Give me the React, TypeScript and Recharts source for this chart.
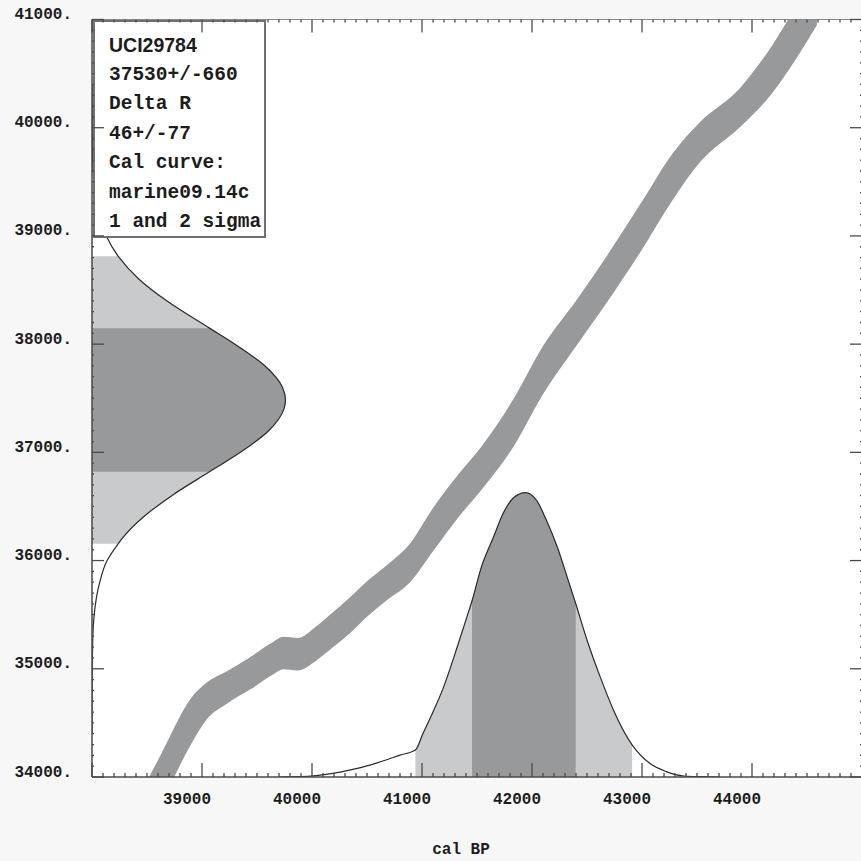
import { ComposedChart, Area, Line, XAxis, YAxis, CartesianGrid } from 'recharts'

// calibration curve (marine09), cal BP -> 14C age and 1 sigma
const CURVE_CAL = [38440, 38640, 38710, 38890, 39040, 39230, 39440, 39650, 39740, 39870, 40040, 40190, 40350, 40500, 40680, 40900, 41100, 41320, 41530, 41830, 42100, 42410, 42680, 42980, 43280, 43530, 43890, 44140, 44440, 44590]
const CURVE_C14 = [33620, 34000, 34150, 34500, 34700, 34830, 34960, 35100, 35145, 35135, 35235, 35360, 35500, 35645, 35795, 35990, 36285, 36585, 36840, 37270, 37760, 38205, 38600, 39065, 39550, 39870, 40185, 40480, 40945, 41200]
const CURVE_SIG = [235, 235, 230, 215, 170, 150, 150, 150, 150, 150, 158, 162, 166, 165, 162, 180, 200, 198, 200, 220, 222, 210, 215, 222, 215, 185, 180, 215, 245, 250]

// calibrated probability (relative)
const PDF_CAL = [39700, 39890, 40040, 40190, 40350, 40500, 40650, 40800, 40940, 41010, 41100, 41190, 41320, 41410, 41455, 41540, 41650, 41740, 41830, 41940, 42040, 42130, 42230, 42320, 42397, 42500, 42620, 42740, 42910, 43070, 43220, 43380, 43530, 43710]
const PDF_P = [0, 0.001, 0.005, 0.013, 0.025, 0.039, 0.057, 0.077, 0.095, 0.154, 0.229, 0.31, 0.457, 0.565, 0.62, 0.739, 0.844, 0.929, 0.981, 1.0, 0.974, 0.904, 0.809, 0.703, 0.61, 0.482, 0.352, 0.236, 0.113, 0.048, 0.019, 0.0035, 0.001, 0]
const PDF_2S = [40940, 42910]
const PDF_1S = [41455, 42397]

// 14C age distribution (relative)
const AGE = [34400, 34800, 35000, 35200, 35400, 35600, 35800, 36000, 36155, 36200, 36400, 36600, 36820, 37000, 37200, 37400, 37484, 37600, 37800, 38000, 38148, 38400, 38600, 38813, 39000, 39200, 39400, 39600, 39800, 40000, 40400]
const DENS = [0, 0.0003, 0.001, 0.003, 0.007, 0.018, 0.04, 0.078, 0.135, 0.154, 0.264, 0.412, 0.607, 0.767, 0.913, 0.992, 1, 0.985, 0.893, 0.739, 0.607, 0.386, 0.243, 0.135, 0.074, 0.036, 0.016, 0.006, 0.002, 0.001, 0]
const AGE_2S = [36155, 38813]
const AGE_1S = [36820, 38148]

const X_LABELS = [39000, 40000, 41000, 42000, 43000, 44000]
const Y_LABELS = [34000, 35000, 36000, 37000, 38000, 39000, 40000, 41000]
const INFO = ['37530+/-660', 'Delta R', '46+/-77', 'Cal curve:', 'marine09.14c', '1 and 2 sigma']

const MONO = '"Liberation Mono", "DejaVu Sans Mono", monospace'
const SANS = '"Liberation Sans", Arial, sans-serif'
const W = 880
const H = 861
const PLOT = { top: 19.5, right: 18, bottom: 84, left: 92 }
const INK = '#1c1c1c'
const AXIS = '#4a4a4a'
const DARK = '#98999b'
const LIGHT = '#c9cacc'

const bandData = CURVE_CAL.map((cal, i) => ({ cal, range: [CURVE_C14[i] - CURVE_SIG[i], CURVE_C14[i] + CURVE_SIG[i]] }))
const pdfData = PDF_CAL.map((cal, i) => ({ cal, p: PDF_P[i] }))
const ageData = AGE.map((age, i) => ({ age, d: DENS[i] }))
const within = (rows: any[], key: string, lim: number[]) => rows.filter(r => r[key] >= lim[0] && r[key] <= lim[1])

const steps = (lo: number, hi: number) => Array.from({ length: (hi - lo) / 100 + 1 }, (_, i) => lo + i * 100)
const X_TICKS = steps(38000, 45000)
const Y_TICKS = steps(34000, 41000)

const tickLen = (v: number) => (v % 1000 === 0 ? 14 : 4)
const textStyle = { fontFamily: MONO, fontSize: 16, fontWeight: 700, fill: INK }

const BottomTick = (p: any) => (
  <g>
    <line x1={p.x} y1={p.y} x2={p.x} y2={p.y - tickLen(p.payload.value)} stroke={AXIS} strokeWidth={1.3} />
    {X_LABELS.includes(p.payload.value) && (
      <text x={p.x - 15} y={p.y + 23} textAnchor="middle" dominantBaseline="central" {...textStyle}>{p.payload.value}</text>
    )}
  </g>
)
const TopTick = (p: any) => (
  <line x1={p.x} y1={p.y} x2={p.x} y2={p.y + tickLen(p.payload.value) - 1} stroke={AXIS} strokeWidth={1.3} />
)
const LeftTick = (p: any) => (
  <g>
    <line x1={p.x} y1={p.y} x2={p.x + tickLen(p.payload.value) - 2} y2={p.y} stroke={AXIS} strokeWidth={1.3} />
    {Y_LABELS.includes(p.payload.value) && (
      <text x={p.x - 20} y={p.y - 4.5} textAnchor="end" dominantBaseline="central" {...textStyle}>{`${p.payload.value}.`}</text>
    )}
  </g>
)
const RightTick = (p: any) => (
  <line x1={p.x} y1={p.y} x2={p.x - tickLen(p.payload.value) + 2} y2={p.y} stroke={AXIS} strokeWidth={1.3} />
)

const layer = { position: 'absolute' as const, left: 0, top: 0 }

export default function App() {
  return (
    <div style={{ position: 'absolute', left: 0, top: 0, width: 861, height: 861, overflow: 'hidden', background: '#f7f7f7', fontFamily: MONO }}>
      {/* curve + calibrated distribution */}
      <div style={layer}>
        <ComposedChart width={W} height={H} margin={PLOT}>
          <CartesianGrid fill="#ffffff" stroke="none" horizontal={false} vertical={false} />
          <XAxis type="number" dataKey="cal" domain={[38000, 45000]} allowDataOverflow hide />
          <YAxis yAxisId="c14" type="number" domain={[34000, 41000]} allowDataOverflow hide />
          <YAxis yAxisId="p" type="number" domain={[0, 2.664]} allowDataOverflow hide />
          <Area data={bandData} yAxisId="c14" dataKey="range" type="monotone" fill={DARK} fillOpacity={1} stroke="none" isAnimationActive={false} />
          <Area data={within(pdfData, 'cal', PDF_2S)} yAxisId="p" dataKey="p" type="monotone" fill={LIGHT} fillOpacity={1} stroke="none" isAnimationActive={false} />
          <Area data={within(pdfData, 'cal', PDF_1S)} yAxisId="p" dataKey="p" type="monotone" fill={DARK} fillOpacity={1} stroke="none" isAnimationActive={false} />
          <Line data={pdfData} yAxisId="p" dataKey="p" type="monotone" stroke="#2a2a2a" strokeWidth={1.2} dot={false} isAnimationActive={false} />
        </ComposedChart>
      </div>

      {/* 14C age distribution on the y axis */}
      <div style={layer}>
        <ComposedChart width={W} height={H} layout="vertical" margin={PLOT}>
          <XAxis type="number" domain={[0, 3.98]} allowDataOverflow hide />
          <YAxis type="number" dataKey="age" domain={[34000, 41000]} allowDataOverflow reversed hide />
          <Area data={within(ageData, 'age', AGE_2S)} dataKey="d" type="monotone" fill={LIGHT} fillOpacity={1} stroke="none" isAnimationActive={false} />
          <Area data={within(ageData, 'age', AGE_1S)} dataKey="d" type="monotone" fill={DARK} fillOpacity={1} stroke="none" isAnimationActive={false} />
          <Line data={ageData} dataKey="d" type="monotone" stroke="#2a2a2a" strokeWidth={1.2} dot={false} isAnimationActive={false} />
        </ComposedChart>
      </div>

      {/* sample info box */}
      <div style={{ position: 'absolute', left: 93, top: 20, width: 173, height: 218, boxSizing: 'border-box', border: '2px solid #707070', background: '#ffffff', color: INK }}>
        <div style={{ position: 'absolute', left: 14, top: 9.25, height: 29.5, lineHeight: '29.5px', fontFamily: SANS, fontWeight: 700, fontSize: 19.5, whiteSpace: 'nowrap' }}>UCI29784</div>
        {INFO.map((t, i) => (
          <div key={t} style={{ position: 'absolute', left: 14, top: 9.25 + (i + 1) * 29.5, height: 29.5, lineHeight: '29.5px', fontFamily: MONO, fontWeight: 700, fontSize: 19.5, whiteSpace: 'pre' }}>{t}</div>
        ))}
      </div>

      {/* axes on top */}
      <div style={layer}>
        <ComposedChart width={W} height={H} data={bandData} margin={{ top: 0, right: 8, bottom: 0, left: 0 }}>
          <XAxis xAxisId="b" type="number" dataKey="cal" domain={[38000, 45000]} allowDataOverflow ticks={X_TICKS} interval={0}
            height={84} tickSize={0} tickMargin={0} tickLine={false} tick={BottomTick} axisLine={{ stroke: AXIS, strokeWidth: 1.5 }}
            label={{ value: 'cal BP', position: 'insideBottom', offset: 7.5, dx: -16, fill: INK, fontSize: 16, fontFamily: MONO, fontWeight: 700 }} />
          <XAxis xAxisId="t" orientation="top" type="number" dataKey="cal" domain={[38000, 45000]} allowDataOverflow ticks={X_TICKS} interval={0}
            height={19.5} tickSize={0} tickMargin={0} tickLine={false} tick={TopTick} axisLine={{ stroke: '#8a8a8a', strokeWidth: 1.2 }} />
          <YAxis yAxisId="l" type="number" domain={[34000, 41000]} allowDataOverflow ticks={Y_TICKS} interval={0}
            width={92} tickSize={0} tickMargin={0} tickLine={false} tick={LeftTick} axisLine={{ stroke: AXIS, strokeWidth: 1.5 }} />
          <YAxis yAxisId="r" orientation="right" type="number" domain={[34000, 41000]} allowDataOverflow ticks={Y_TICKS} interval={0}
            width={10} tickSize={0} tickMargin={0} tickLine={false} tick={RightTick} axisLine={{ stroke: AXIS, strokeWidth: 1.5 }} />
          <Line xAxisId="b" yAxisId="l" dataKey={(r: any) => (r.range[0] + r.range[1]) / 2} stroke="none" dot={false} isAnimationActive={false} />
          <Line xAxisId="t" yAxisId="r" dataKey={(r: any) => (r.range[0] + r.range[1]) / 2} stroke="none" dot={false} isAnimationActive={false} />
        </ComposedChart>
      </div>
    </div>
  )
}
